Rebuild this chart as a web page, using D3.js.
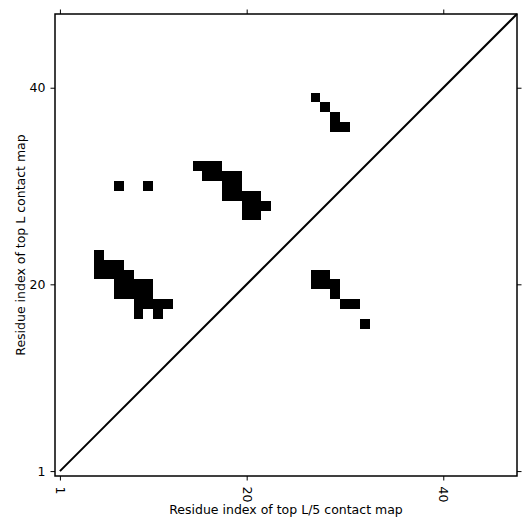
<!DOCTYPE html>
<html>
<head>
<meta charset="utf-8">
<script src="https://cdn.jsdelivr.net/npm/d3@7"></script>
<style>
  body { margin: 0; background: #fff; }
  svg text { font-family: "DejaVu Sans", sans-serif; fill: #000; }
</style>
</head>
<body>
<svg id="chart" width="531" height="531"></svg>
<script>
// sequence length and tick labels
const seqLength = 47;
const xTicks = [1, 20, 40];
const yTicks = [1, 20, 40];

// contact cells as [residue i (x), residue j (y)]
const contactCells = [
    [5, 23],
    [5, 22], [6, 22], [7, 22],
    [5, 21], [6, 21], [7, 21], [8, 21],
    [7, 20], [8, 20], [9, 20], [10, 20],
    [7, 19], [8, 19], [9, 19], [10, 19],
    [9, 18], [10, 18], [11, 18], [12, 18],
    [9, 17], [11, 17],
    [7, 30], [10, 30],
    [15, 32], [16, 32], [17, 32],
    [16, 31], [17, 31], [18, 31], [19, 31],
    [18, 30], [19, 30],
    [18, 29], [19, 29], [20, 29], [21, 29],
    [20, 28], [21, 28], [22, 28],
    [20, 27], [21, 27],
    [27, 39], [28, 38], [29, 37], [29, 36], [30, 36],
    [27, 21], [28, 21],
    [27, 20], [28, 20], [29, 20],
    [29, 19],
    [30, 18], [31, 18],
    [32, 16],
];

const xLabel = 'Residue index of top L/5 contact map';
const yLabel = 'Residue index of top L contact map';

const marginLeft = 55;
const marginTop = 14;
const plotSize = 462;

const x = d3.scaleLinear()
    .domain([0.5, seqLength + 0.5])
    .range([marginLeft, marginLeft + plotSize]);
const y = d3.scaleLinear()
    .domain([0.5, seqLength + 0.5])
    .range([marginTop + plotSize, marginTop]);

const svg = d3.select('#chart');

// cells
svg.append('g')
    .selectAll('rect')
    .data(contactCells)
    .enter()
    .append('rect')
    .attr('x', d => x(d[0] - 0.5))
    .attr('y', d => y(d[1] + 0.5))
    .attr('width', d => x(d[0] + 0.5) - x(d[0] - 0.5))
    .attr('height', d => y(d[1] - 0.5) - y(d[1] + 0.5))
    .attr('fill', '#000')
    .attr('shape-rendering', 'crispEdges');

// diagonal
svg.append('line')
    .attr('x1', x(1))
    .attr('y1', y(1))
    .attr('x2', x(seqLength + 0.5))
    .attr('y2', y(seqLength + 0.5))
    .attr('stroke', '#000')
    .attr('stroke-width', 2);

// axes
const tickLen = 4.5;
const bottom = svg.append('g')
    .attr('transform', `translate(0, ${marginTop + plotSize})`)
    .call(d3.axisBottom(x).tickValues(xTicks).tickSize(tickLen).tickPadding(5));
bottom.selectAll('text')
    .attr('y', 0)
    .attr('x', 0)
    .attr('dy', null)
    .attr('transform', `translate(0, ${tickLen + 6}) rotate(90)`)
    .attr('dominant-baseline', 'central')
    .style('text-anchor', 'start')
    .style('font-size', '12.5px');

svg.append('g')
    .attr('transform', `translate(0, ${marginTop})`)
    .call(d3.axisTop(x).tickValues(xTicks).tickSize(tickLen).tickFormat(''));

svg.append('g')
    .attr('transform', `translate(${marginLeft}, 0)`)
    .call(d3.axisLeft(y).tickValues(yTicks).tickSize(tickLen).tickPadding(5))
    .selectAll('text')
    .style('font-size', '12.5px');

svg.append('g')
    .attr('transform', `translate(${marginLeft + plotSize}, 0)`)
    .call(d3.axisRight(y).tickValues(yTicks).tickSize(tickLen).tickFormat(''));

svg.selectAll('.domain').remove();
svg.selectAll('.tick line').attr('stroke', '#000');
svg.selectAll('.tick text').style('font-family', '"DejaVu Sans", sans-serif');

// frame
svg.append('rect')
    .attr('x', marginLeft)
    .attr('y', marginTop)
    .attr('width', plotSize)
    .attr('height', plotSize)
    .attr('fill', 'none')
    .attr('stroke', '#000')
    .attr('stroke-width', 1.5);

// axis labels
svg.append('text')
    .attr('x', marginLeft + plotSize / 2)
    .attr('y', 514)
    .attr('text-anchor', 'middle')
    .style('font-size', '12.5px')
    .text(xLabel);

svg.append('text')
    .attr('transform', `translate(25, ${marginTop + plotSize / 2}) rotate(-90)`)
    .attr('text-anchor', 'middle')
    .style('font-size', '12.5px')
    .text(yLabel);
</script>
</body>
</html>
